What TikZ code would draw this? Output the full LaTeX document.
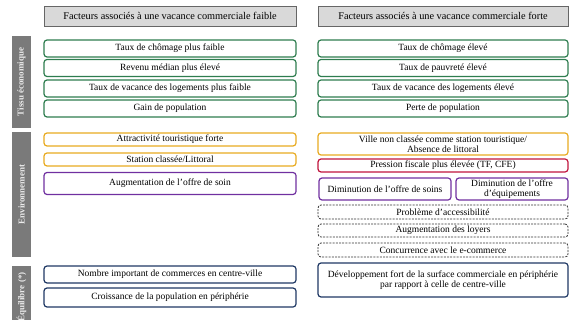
\documentclass[tikz,border=0pt]{standalone}
\usepackage{fontspec}
\setmainfont{Liberation Serif}
\definecolor{vert}{HTML}{2E7D4F}
\definecolor{jaune}{HTML}{E8AA20}
\definecolor{violet}{HTML}{7030A0}
\definecolor{rouge}{HTML}{C0143C}
\definecolor{marine}{HTML}{1F3864}
\definecolor{grisfond}{HTML}{D9D9D9}
\definecolor{grisbarre}{HTML}{7A7A7A}
\begin{document}
\begin{tikzpicture}[x=1pt,y=-1pt,
  facteur/.style={draw, rounded corners=3pt, line width=1.2pt, inner sep=0pt,
    align=center, font=\fontsize{9.5}{10}\selectfont},
  pointille/.style={facteur, draw=black!80, line width=0.8pt, dash pattern=on 2pt off 1.2pt},
  titre/.style={draw=black!60, fill=grisfond, line width=0.6pt, inner sep=0pt,
    minimum height=20pt, font=\fontsize{10.3}{11}\selectfont},
  barre/.style={fill=grisbarre, text=white!92!black, rotate=90, inner sep=0pt,
    minimum height=19pt, font=\bfseries\fontsize{9}{10}\selectfont}]
\useasboundingbox (0,0) rectangle (569,320);
\clip (0,0) rectangle (569,320);
% titres des colonnes
\node[titre, minimum width=252pt] (tfaible) at (170,16) {Facteurs associés à une vacance commerciale faible};
\node[titre, minimum width=250pt] (tforte) at (443,16) {Facteurs associés à une vacance commerciale forte};
% barres laterales
\node[barre, minimum width=92pt] (tissu) at (21.5,82) {Tissu économique};
\node[barre, minimum width=125pt] (envir) at (21.5,194.5) {Environnement};
\node[barre, minimum width=62pt] (equil) at (21.5,297) {Équilibre (*)};
% tissu economique
\node[facteur, draw=vert, minimum width=252pt, minimum height=17pt] (chomf) at (170,48.5) {Taux de chômage plus faible};
\node[facteur, draw=vert, minimum width=252pt, minimum height=17pt] (revenu) at (170,68) {Revenu médian plus élevé};
\node[facteur, draw=vert, minimum width=252pt, minimum height=17pt] (logf) at (170,88.5) {Taux de vacance des logements plus faible};
\node[facteur, draw=vert, minimum width=252pt, minimum height=17pt] (gain) at (170,108.5) {Gain de population};
\node[facteur, draw=vert, minimum width=250pt, minimum height=17pt] (chome) at (443,48.5) {Taux de chômage élevé};
\node[facteur, draw=vert, minimum width=250pt, minimum height=17pt] (pauv) at (443,68) {Taux de pauvreté élevé};
\node[facteur, draw=vert, minimum width=250pt, minimum height=17pt] (loge) at (443,88.5) {Taux de vacance des logements élevé};
\node[facteur, draw=vert, minimum width=250pt, minimum height=17pt] (perte) at (443,108.5) {Perte de population};
% environnement
\node[facteur, draw=jaune, minimum width=252pt, minimum height=13pt] (attract) at (170,139.5) {Attractivité touristique forte};
\node[facteur, draw=jaune, minimum width=252pt, minimum height=13pt] (station) at (170,159.5) {Station classée/Littoral};
\node[facteur, draw=violet, minimum width=252pt, minimum height=22pt] (soinp) at (170,183.5) {Augmentation de l'offre de soin};
\node[facteur, draw=jaune, minimum width=250pt, minimum height=22pt] (ville) at (443,144) {Ville non classée comme station touristique/\\Absence de littoral};
\node[facteur, draw=rouge, minimum width=250pt, minimum height=13pt] (fisc) at (443,165.5) {Pression fiscale plus élevée (TF, CFE)};
\node[facteur, draw=violet, minimum width=132pt, minimum height=22pt] (soinm) at (385,189) {Diminution de l'offre de soins};
\node[facteur, draw=violet, minimum width=112pt, minimum height=22pt] (equip) at (512,189) {Diminution de l'offre\\d'équipements};
\node[pointille, minimum width=250pt, minimum height=14pt] (access) at (443,212) {Problème d'accessibilité};
\node[pointille, minimum width=250pt, minimum height=13pt] (loyers) at (443,230.5) {Augmentation des loyers};
\node[pointille, minimum width=250pt, minimum height=14pt] (ecomm) at (443,250) {Concurrence avec le e-commerce};
% equilibre
\node[facteur, draw=marine, minimum width=252pt, minimum height=17pt] (centre) at (170,274.5) {Nombre important de commerces en centre-ville};
\node[facteur, draw=marine, minimum width=252pt, minimum height=19pt] (periph) at (170,297.5) {Croissance de la population en périphérie};
\node[facteur, draw=marine, minimum width=250pt, minimum height=34pt] (devel) at (443,280) {Développement fort de la surface commerciale en périphérie\\par rapport à celle de centre-ville};
\end{tikzpicture}
\end{document}
